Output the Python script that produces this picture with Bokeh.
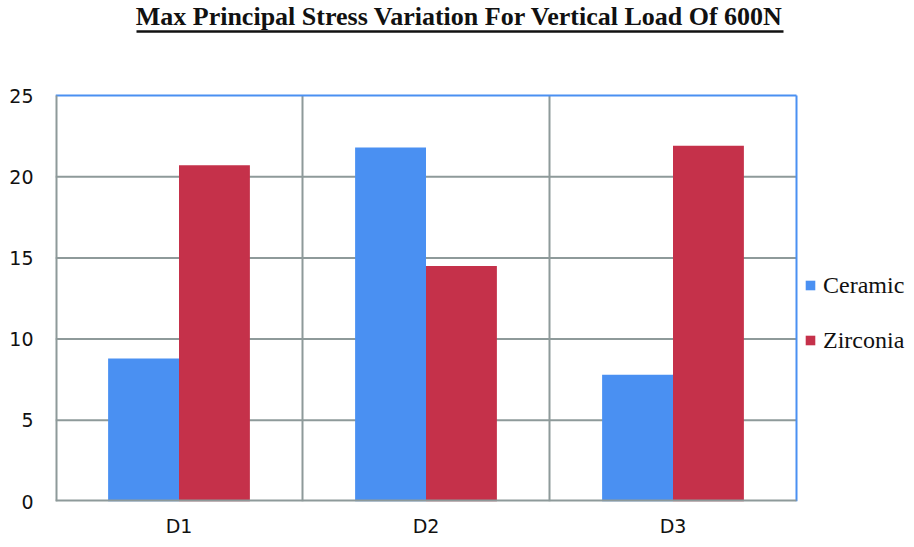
from bokeh.plotting import figure
from bokeh.models import Range1d, FixedTicker, Legend, LegendItem, ColumnDataSource, Label
from bokeh.transform import dodge
from bokeh.embed import file_html
from bokeh.resources import INLINE

categories = ["D1", "D2", "D3"]
ceramic = [8.8, 21.8, 7.8]
zirconia = [20.7, 14.5, 21.9]
y_ticks = [0, 5, 10, 15, 20, 25]
series_names = ["Ceramic", "Zirconia"]
title_text = "Max Principal Stress Variation For Vertical Load Of 600N"

BLUE = "#4A90F2"
RED = "#C5314A"
GRID = "#8E9A9A"
INK = "#111111"

W, H = 906, 539
FL, FT, FW, FH = 55, 95, 741, 406      # plotting box placement in pixels
n = len(categories)
ymax = y_ticks[-1]
px_x = FW / n                           # pixels per category
px_y = FH / ymax                        # pixels per unit

# the frame spans the whole canvas right of / above the axes, so the
# legend and title can be placed freely; the plotting box is drawn by hand
p = figure(width=W, height=H, output_backend="svg", toolbar_location=None,
           x_range=Range1d(0, (W - FL) / px_x), y_range=Range1d(0, (FT + FH) / px_y),
           min_border_left=FL, min_border_right=0, min_border_top=0,
           min_border_bottom=H - FT - FH)
p.outline_line_color = None
p.grid.visible = False

centers = [i + 0.5 for i in range(n)]
bw = 0.287
source = ColumnDataSource(dict(x=centers, ceramic=ceramic, zirconia=zirconia))

# grid lines inside the plotting box
inner = y_ticks[1:-1]
p.segment(x0=[0] * len(inner), y0=inner, x1=[n] * len(inner), y1=inner,
          line_color=GRID, line_width=2)
bounds = list(range(1, n))
p.segment(x0=bounds, y0=[0] * len(bounds), x1=bounds, y1=[ymax] * len(bounds),
          line_color=GRID, line_width=2)

r1 = p.vbar(x=dodge("x", -bw / 2, range=p.x_range), top="ceramic", width=bw,
            source=source, fill_color=BLUE, line_color=None)
r2 = p.vbar(x=dodge("x", bw / 2, range=p.x_range), top="zirconia", width=bw,
            source=source, fill_color=RED, line_color=None)

# box edges: blue top/right, grey left/bottom axis lines
p.segment(x0=[0, n], y0=[ymax, 0], x1=[n, n], y1=[ymax, ymax],
          line_color=BLUE, line_width=2)
p.segment(x0=[0, 0], y0=[0, 0], x1=[0, n], y1=[ymax, 0],
          line_color=GRID, line_width=4)

p.xaxis.ticker = FixedTicker(ticks=centers)
p.xaxis.major_label_overrides = {c: nm for c, nm in zip(centers, categories)}
p.yaxis.ticker = FixedTicker(ticks=y_ticks)
for ax in (p.xaxis, p.yaxis):
    ax.axis_line_color = None
    ax.major_tick_line_color = None
    ax.minor_tick_line_color = None
    ax.major_tick_out = 0
    ax.major_tick_in = 0
    ax.minor_tick_out = 0
    ax.minor_tick_in = 0
    ax.major_label_text_font = "DejaVu Sans"
    ax.major_label_text_font_size = "19px"
    ax.major_label_text_color = INK
p.yaxis.major_label_standoff = 22
p.xaxis.major_label_standoff = 13

# title + underline
p.add_layout(Label(x=459 - FL, y=FT + FH - 16, x_units="screen", y_units="screen",
                   text=title_text, text_font="Liberation Serif", text_font_style="bold",
                   text_font_size="26px", text_align="center", text_baseline="middle",
                   text_color=INK))
uy = (FT + FH - 31) / px_y
p.segment(x0=[(136 - FL) / px_x], y0=[uy], x1=[(783 - FL) / px_x], y1=[uy],
          line_color=INK, line_width=2.5)

legend = Legend(items=[LegendItem(label=series_names[0], renderers=[r1]),
                       LegendItem(label=series_names[1], renderers=[r2])],
                location=(749, 147), label_text_font="Liberation Serif",
                label_text_font_size="24px", label_text_color=INK,
                glyph_width=12, glyph_height=12,
                label_standoff=7, padding=0, margin=0, spacing=27, label_height=28,
                border_line_color=None, background_fill_alpha=0)
p.add_layout(legend)

open("out.html", "w").write(file_html(p, INLINE))
